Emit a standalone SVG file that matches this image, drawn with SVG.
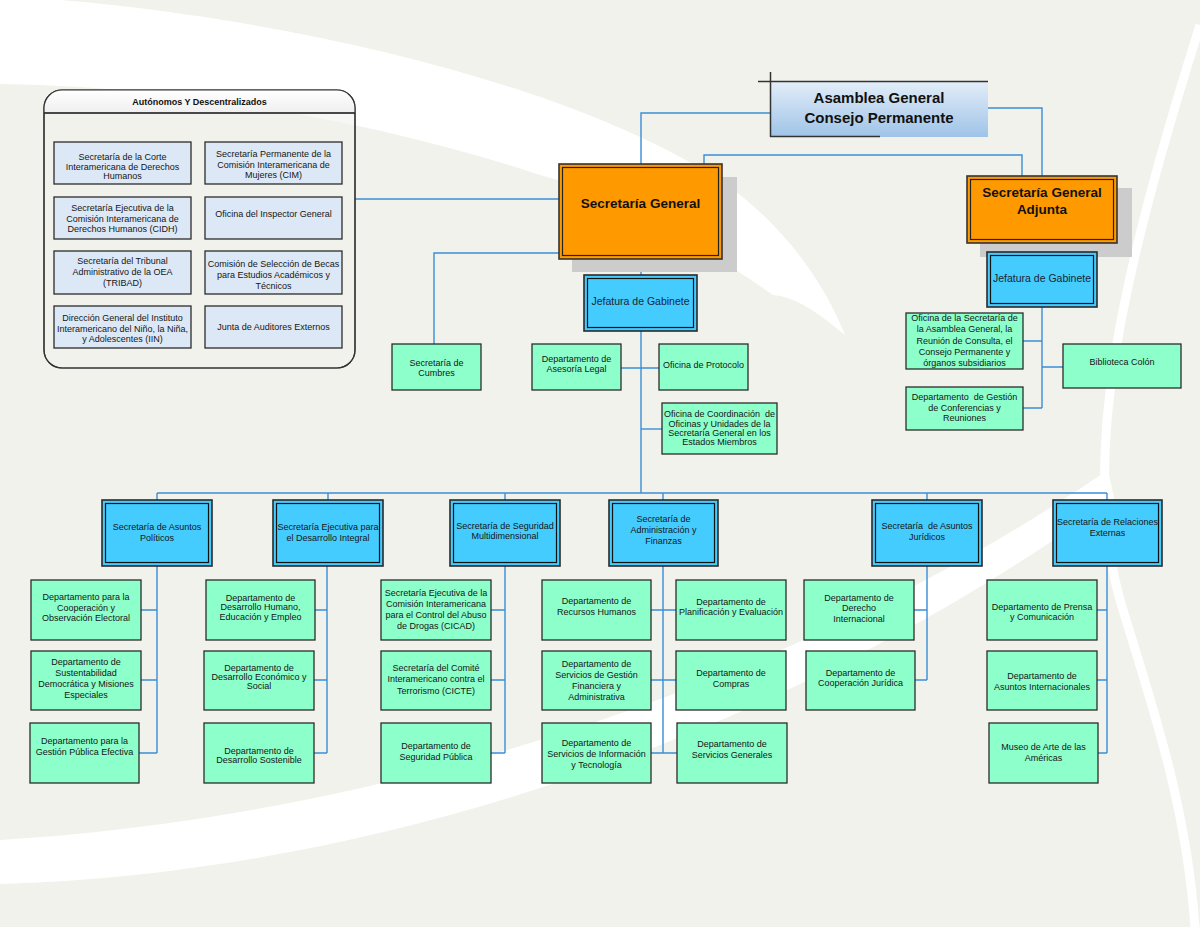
<svg xmlns="http://www.w3.org/2000/svg" width="1200" height="927" viewBox="0 0 1200 927">
<defs>
<linearGradient id="agGrad" x1="0" y1="0" x2="0" y2="1">
<stop offset="0" stop-color="#e2edf8"/>
<stop offset="1" stop-color="#9fc3e8"/>
</linearGradient>
<linearGradient id="hdrGrad" x1="0" y1="0" x2="0" y2="1">
<stop offset="0" stop-color="#ffffff"/>
<stop offset="1" stop-color="#efefef"/>
</linearGradient>
<style>
.conn{fill:none;stroke:#3b8ed6;stroke-width:1.4}
.t{font-family:"Liberation Sans",Arial,sans-serif;font-size:9px;fill:#161616;text-anchor:middle}
.tb{font-family:"Liberation Sans",Arial,sans-serif;font-weight:bold;fill:#111;text-anchor:middle}
.tj{font-family:"Liberation Sans",Arial,sans-serif;font-size:10.5px;fill:#1a2433;text-anchor:middle}
.grn{fill:#8cffca;stroke:#2b2b2b;stroke-width:1.3}
.lb{fill:#dce8f5;stroke:#2b2b2b;stroke-width:1.3}
.bo{fill:#44ccff;stroke:#2a2a2a;stroke-width:1.6}
.bi{fill:none;stroke:#111;stroke-width:1.2}
.oo{fill:#ff9900;stroke:#333;stroke-width:1.6}
.oi{fill:none;stroke:#222;stroke-width:1.2}
.sh{fill:#cccccc}
</style>
</defs>
<rect x="0" y="0" width="1200" height="927" fill="#f2f2ec"/>
<g id="background" fill="#ffffff">
<path d="M0,0 L60,0 C300,20 600,90 740,195 C790,235 825,285 845,335 C815,310 795,297 773,295 C680,230 600,190 540,175 C360,115 160,86 0,84 Z"/>
<path d="M0,840 C400,815 800,680 1108,470 L1114,498 C850,690 450,870 0,884 Z"/>
<path d="M1200,25 C1120,280 1080,460 1120,600 C1150,700 1186,800 1195,927" fill="none" stroke="#ffffff" stroke-width="9"/>
</g>
<g id="connectors" class="conn">
<path d="M770,113 H641 V164"/>
<path d="M982,108 H1042 V176"/>
<path d="M704,164 V155 H1022 V176"/>
<path d="M355,199 H559"/>
<path d="M559,253 H434 V344"/>
<path d="M641,259 V275"/>
<path d="M641,331 V493"/>
<path d="M621,368 H659"/>
<path d="M641,429 H662"/>
<path d="M157,493 H1107"/>
<path d="M157,493 V500 M328,493 V500 M505,493 V500 M663,493 V500 M927,493 V500 M1107,493 V500"/>
<path d="M157,566 V753 M141,610 H157 M141,680 H157 M139,753 H157"/>
<path d="M327,566 V753 M315,610 H327 M314,680 H327 M314,753 H327"/>
<path d="M505,566 V753 M491,610 H505 M491,680 H505 M491,753 H505"/>
<path d="M663,566 V753 M651,610 H676 M651,680 H676 M651,753 H677"/>
<path d="M927,566 V680 M914,610 H927 M915,680 H927"/>
<path d="M1107,566 V753 M1097,610 H1107 M1097,680 H1107 M1098,753 H1107"/>
<path d="M1042,243 V252"/>
<path d="M1042,307 V408 M1023,341 H1042 M1042,367 H1063 M1023,408 H1042"/>
</g>
<g id="autonomos">
<rect x="44" y="90" width="311" height="278" rx="18" fill="#f2f2ee" fill-opacity="0.6" stroke="#333" stroke-width="1.2"/>
<path d="M44,113 V108 A18,18 0 0 1 62,90 H337 A18,18 0 0 1 355,108 V113 Z" fill="url(#hdrGrad)"/>
<path d="M44,113 H355" stroke="#111" stroke-width="1.3"/>
<rect x="44" y="90" width="311" height="278" rx="18" fill="none" stroke="#333" stroke-width="1.2"/>
<text class="tb" x="199.5" y="105" font-size="9">Autónomos Y Descentralizados</text>
</g>
<g id="aut-corte"><rect class="lb" x="54" y="142" width="137" height="42"/><text class="t" x="122.5"><tspan x="122.5" y="160">Secretaría de la Corte</tspan><tspan x="122.5" y="169.5">Interamericana de Derechos</tspan><tspan x="122.5" y="179">Humanos</tspan></text></g>
<g id="aut-cim"><rect class="lb" x="205" y="142" width="137" height="42"/><text class="t"><tspan x="273.5" y="157">Secretaría Permanente de la</tspan><tspan x="273.5" y="167.5">Comisión Interamericana de</tspan><tspan x="273.5" y="178">Mujeres (CIM)</tspan></text></g>
<g id="aut-cidh"><rect class="lb" x="54" y="197" width="137" height="42"/><text class="t"><tspan x="122.5" y="211">Secretaría Ejecutiva de la</tspan><tspan x="122.5" y="221.5">Comisión Interamericana de</tspan><tspan x="122.5" y="232">Derechos Humanos (CIDH)</tspan></text></g>
<g id="aut-inspector"><rect class="lb" x="205" y="197" width="137" height="42"/><text class="t" x="273.5" y="217">Oficina del Inspector General</text></g>
<g id="aut-tribad"><rect class="lb" x="54" y="251" width="137" height="43"/><text class="t"><tspan x="122.5" y="264">Secretaría del Tribunal</tspan><tspan x="122.5" y="275">Administrativo de la OEA</tspan><tspan x="122.5" y="285.5">(TRIBAD)</tspan></text></g>
<g id="aut-becas"><rect class="lb" x="205" y="251" width="137" height="43"/><text class="t"><tspan x="273.5" y="267">Comisión de Selección de Becas</tspan><tspan x="273.5" y="278">para Estudios Académicos y</tspan><tspan x="273.5" y="288.5">Técnicos</tspan></text></g>
<g id="aut-iin"><rect class="lb" x="54" y="306" width="137" height="42"/><text class="t"><tspan x="122.5" y="320.5">Dirección General del Instituto</tspan><tspan x="122.5" y="331.5">Interamericano del Niño, la Niña,</tspan><tspan x="122.5" y="341.5">y Adolescentes (IIN)</tspan></text></g>
<g id="aut-auditores"><rect class="lb" x="205" y="306" width="137" height="42"/><text class="t" x="273.5" y="330">Junta de Auditores Externos</text></g>
<g id="asamblea">
<rect x="770" y="82" width="218" height="55" fill="url(#agGrad)"/>
<path d="M758,81.5 H988 M770.5,72 V137 M770,136.5 H880" stroke="#333" stroke-width="1.5" fill="none"/>
<text class="tb" font-size="15"><tspan x="879" y="103">Asamblea General</tspan><tspan x="879" y="122.5">Consejo Permanente</tspan></text>
</g>
<g id="sg">
<rect class="sh" x="572" y="177" width="165" height="95"/>
<rect class="oo" x="559" y="164" width="163" height="95"/>
<rect class="oi" x="562.5" y="167.5" width="156" height="88"/>
<text class="tb" font-size="13.5" x="640.5" y="208">Secretaría General</text>
</g>
<g id="sga">
<rect class="sh" x="980" y="188" width="152" height="69"/>
<rect class="oo" x="967" y="176" width="150" height="67"/>
<rect class="oi" x="970.5" y="179.5" width="143" height="60"/>
<text class="tb" font-size="13.5"><tspan x="1042" y="197">Secretaría General</tspan><tspan x="1042" y="214">Adjunta</tspan></text>
</g>
<g id="jefatura-sg"><rect class="bo" x="584" y="275" width="113" height="56"/><rect class="bi" x="587.5" y="278.5" width="106" height="49"/><text class="tj" x="640.5" y="304.5">Jefatura de Gabinete</text></g>
<g id="jefatura-sga"><rect class="bo" x="987" y="252" width="110" height="55"/><rect class="bi" x="990.5" y="255.5" width="103" height="48"/><text class="tj" x="1042" y="281.5">Jefatura de Gabinete</text></g>
<g id="cumbres"><rect class="grn" x="392" y="344" width="89" height="46"/><text class="t"><tspan x="436.5" y="366">Secretaría de</tspan><tspan x="436.5" y="376">Cumbres</tspan></text></g>
<g id="asesoria"><rect class="grn" x="532" y="344" width="89" height="46"/><text class="t"><tspan x="576.5" y="362">Departamento de</tspan><tspan x="576.5" y="372">Asesoría Legal</tspan></text></g>
<g id="protocolo"><rect class="grn" x="659" y="344" width="89" height="46"/><text class="t" x="703.5" y="368">Oficina de Protocolo</text></g>
<g id="coordinacion"><rect class="grn" x="662" y="403" width="115" height="51"/><text class="t" xml:space="preserve"><tspan x="719.5" y="417">Oficina de Coordinación  de</tspan><tspan x="719.5" y="426.5">Oficinas y Unidades de la</tspan><tspan x="719.5" y="435.5">Secretaría General en los</tspan><tspan x="719.5" y="444.5">Estados Miembros</tspan></text></g>
<g id="of-asamblea"><rect class="grn" x="906" y="313" width="117" height="56"/><text class="t"><tspan x="964.5" y="321">Oficina de la Secretaría de</tspan><tspan x="964.5" y="332">la Asamblea General, la</tspan><tspan x="964.5" y="343.5">Reunión de Consulta, el</tspan><tspan x="964.5" y="355">Consejo Permanente y</tspan><tspan x="964.5" y="366">órganos subsidiarios</tspan></text></g>
<g id="biblioteca"><rect class="grn" x="1063" y="344" width="118" height="44"/><text class="t" x="1122" y="365">Biblioteca Colón</text></g>
<g id="conferencias"><rect class="grn" x="906" y="387" width="117" height="43"/><text class="t" xml:space="preserve"><tspan x="964.5" y="400">Departamento  de Gestión</tspan><tspan x="964.5" y="410.5">de Conferencias y</tspan><tspan x="964.5" y="421">Reuniones</tspan></text></g>
<g id="s-politicos"><rect class="bo" x="102" y="500" width="110" height="66"/><rect class="bi" x="105.5" y="503.5" width="103" height="59"/><text class="t"><tspan x="157" y="530">Secretaría de Asuntos</tspan><tspan x="157" y="541">Políticos</tspan></text></g>
<g id="s-desarrollo"><rect class="bo" x="273" y="500" width="110" height="66"/><rect class="bi" x="276.5" y="503.5" width="103" height="59"/><text class="t"><tspan x="328" y="530">Secretaría Ejecutiva para</tspan><tspan x="328" y="541">el Desarrollo Integral</tspan></text></g>
<g id="s-seguridad"><rect class="bo" x="450" y="500" width="110" height="66"/><rect class="bi" x="453.5" y="503.5" width="103" height="59"/><text class="t"><tspan x="505" y="529">Secretaría de Seguridad</tspan><tspan x="505" y="539">Multidimensional</tspan></text></g>
<g id="s-administracion"><rect class="bo" x="609" y="500" width="109" height="66"/><rect class="bi" x="612.5" y="503.5" width="102" height="59"/><text class="t"><tspan x="663.5" y="522">Secretaría de</tspan><tspan x="663.5" y="533">Administración y</tspan><tspan x="663.5" y="544">Finanzas</tspan></text></g>
<g id="s-juridicos"><rect class="bo" x="872" y="500" width="110" height="66"/><rect class="bi" x="875.5" y="503.5" width="103" height="59"/><text class="t" xml:space="preserve"><tspan x="927" y="529">Secretaría  de Asuntos</tspan><tspan x="927" y="540">Jurídicos</tspan></text></g>
<g id="s-relaciones"><rect class="bo" x="1053" y="500" width="109" height="66"/><rect class="bi" x="1056.5" y="503.5" width="102" height="59"/><text class="t"><tspan x="1107.5" y="525">Secretaría de Relaciones</tspan><tspan x="1107.5" y="536">Externas</tspan></text></g>
<g id="d-electoral"><rect class="grn" x="31" y="580" width="110" height="60"/><text class="t"><tspan x="86" y="600">Departamento para la</tspan><tspan x="86" y="611">Cooperación y</tspan><tspan x="86" y="621">Observación Electoral</tspan></text></g>
<g id="d-sustentabilidad"><rect class="grn" x="31" y="651" width="110" height="59"/><text class="t"><tspan x="86" y="665">Departamento de</tspan><tspan x="86" y="676">Sustentabilidad</tspan><tspan x="86" y="687">Democrática y Misiones</tspan><tspan x="86" y="698">Especiales</tspan></text></g>
<g id="d-gestion-publica"><rect class="grn" x="30" y="723" width="109" height="60"/><text class="t"><tspan x="84.5" y="744">Departamento para la</tspan><tspan x="84.5" y="755">Gestión Pública Efectiva</tspan></text></g>
<g id="d-humano"><rect class="grn" x="206" y="580" width="109" height="60"/><text class="t"><tspan x="260.5" y="601">Departamento de</tspan><tspan x="260.5" y="610">Desarrollo Humano,</tspan><tspan x="260.5" y="620">Educación y Empleo</tspan></text></g>
<g id="d-economico"><rect class="grn" x="204" y="651" width="110" height="59"/><text class="t"><tspan x="259" y="671">Departamento de</tspan><tspan x="259" y="680">Desarrollo Económico y</tspan><tspan x="259" y="689">Social</tspan></text></g>
<g id="d-sostenible"><rect class="grn" x="204" y="723" width="110" height="60"/><text class="t"><tspan x="259" y="754">Departamento de</tspan><tspan x="259" y="763">Desarrollo Sostenible</tspan></text></g>
<g id="d-cicad"><rect class="grn" x="381" y="580" width="110" height="60"/><text class="t"><tspan x="436" y="596">Secretaría Ejecutiva de la</tspan><tspan x="436" y="607">Comisión Interamericana</tspan><tspan x="436" y="618">para el Control del Abuso</tspan><tspan x="436" y="629">de Drogas (CICAD)</tspan></text></g>
<g id="d-cicte"><rect class="grn" x="381" y="651" width="110" height="59"/><text class="t"><tspan x="436" y="671">Secretaría del Comité</tspan><tspan x="436" y="682">Interamericano contra el</tspan><tspan x="436" y="694">Terrorismo (CICTE)</tspan></text></g>
<g id="d-seguridad-publica"><rect class="grn" x="381" y="723" width="110" height="60"/><text class="t"><tspan x="436" y="749">Departamento de</tspan><tspan x="436" y="760">Seguridad Pública</tspan></text></g>
<g id="d-rrhh"><rect class="grn" x="542" y="580" width="109" height="60"/><text class="t"><tspan x="596.5" y="604">Departamento de</tspan><tspan x="596.5" y="615">Recursos Humanos</tspan></text></g>
<g id="d-financiera"><rect class="grn" x="542" y="651" width="109" height="59"/><text class="t"><tspan x="596.5" y="667">Departamento de</tspan><tspan x="596.5" y="678">Servicios de Gestión</tspan><tspan x="596.5" y="689">Financiera y</tspan><tspan x="596.5" y="700">Administrativa</tspan></text></g>
<g id="d-tecnologia"><rect class="grn" x="542" y="723" width="109" height="60"/><text class="t"><tspan x="596.5" y="746">Departamento de</tspan><tspan x="596.5" y="757">Servicios de Información</tspan><tspan x="596.5" y="768">y Tecnología</tspan></text></g>
<g id="d-planificacion"><rect class="grn" x="676" y="580" width="110" height="60"/><text class="t"><tspan x="731" y="605">Departamento de</tspan><tspan x="731" y="615">Planificación y Evaluación</tspan></text></g>
<g id="d-compras"><rect class="grn" x="676" y="651" width="110" height="59"/><text class="t"><tspan x="731" y="676">Departamento de</tspan><tspan x="731" y="687">Compras</tspan></text></g>
<g id="d-generales"><rect class="grn" x="677" y="723" width="110" height="60"/><text class="t"><tspan x="732" y="747">Departamento de</tspan><tspan x="732" y="758">Servicios Generales</tspan></text></g>
<g id="d-derecho"><rect class="grn" x="804" y="580" width="110" height="60"/><text class="t"><tspan x="859" y="601">Departamento de</tspan><tspan x="859" y="611">Derecho</tspan><tspan x="859" y="622">Internacional</tspan></text></g>
<g id="d-cooperacion-juridica"><rect class="grn" x="806" y="651" width="109" height="59"/><text class="t"><tspan x="860.5" y="676">Departamento de</tspan><tspan x="860.5" y="686">Cooperación Jurídica</tspan></text></g>
<g id="d-prensa"><rect class="grn" x="987" y="580" width="110" height="60"/><text class="t"><tspan x="1042" y="610">Departamento de Prensa</tspan><tspan x="1042" y="620">y Comunicación</tspan></text></g>
<g id="d-internacionales"><rect class="grn" x="987" y="651" width="110" height="59"/><text class="t"><tspan x="1042" y="679">Departamento de</tspan><tspan x="1042" y="690">Asuntos Internacionales</tspan></text></g>
<g id="d-museo"><rect class="grn" x="989" y="723" width="109" height="60"/><text class="t"><tspan x="1043.5" y="750">Museo de Arte de las</tspan><tspan x="1043.5" y="761">Américas</tspan></text></g>
</svg>
